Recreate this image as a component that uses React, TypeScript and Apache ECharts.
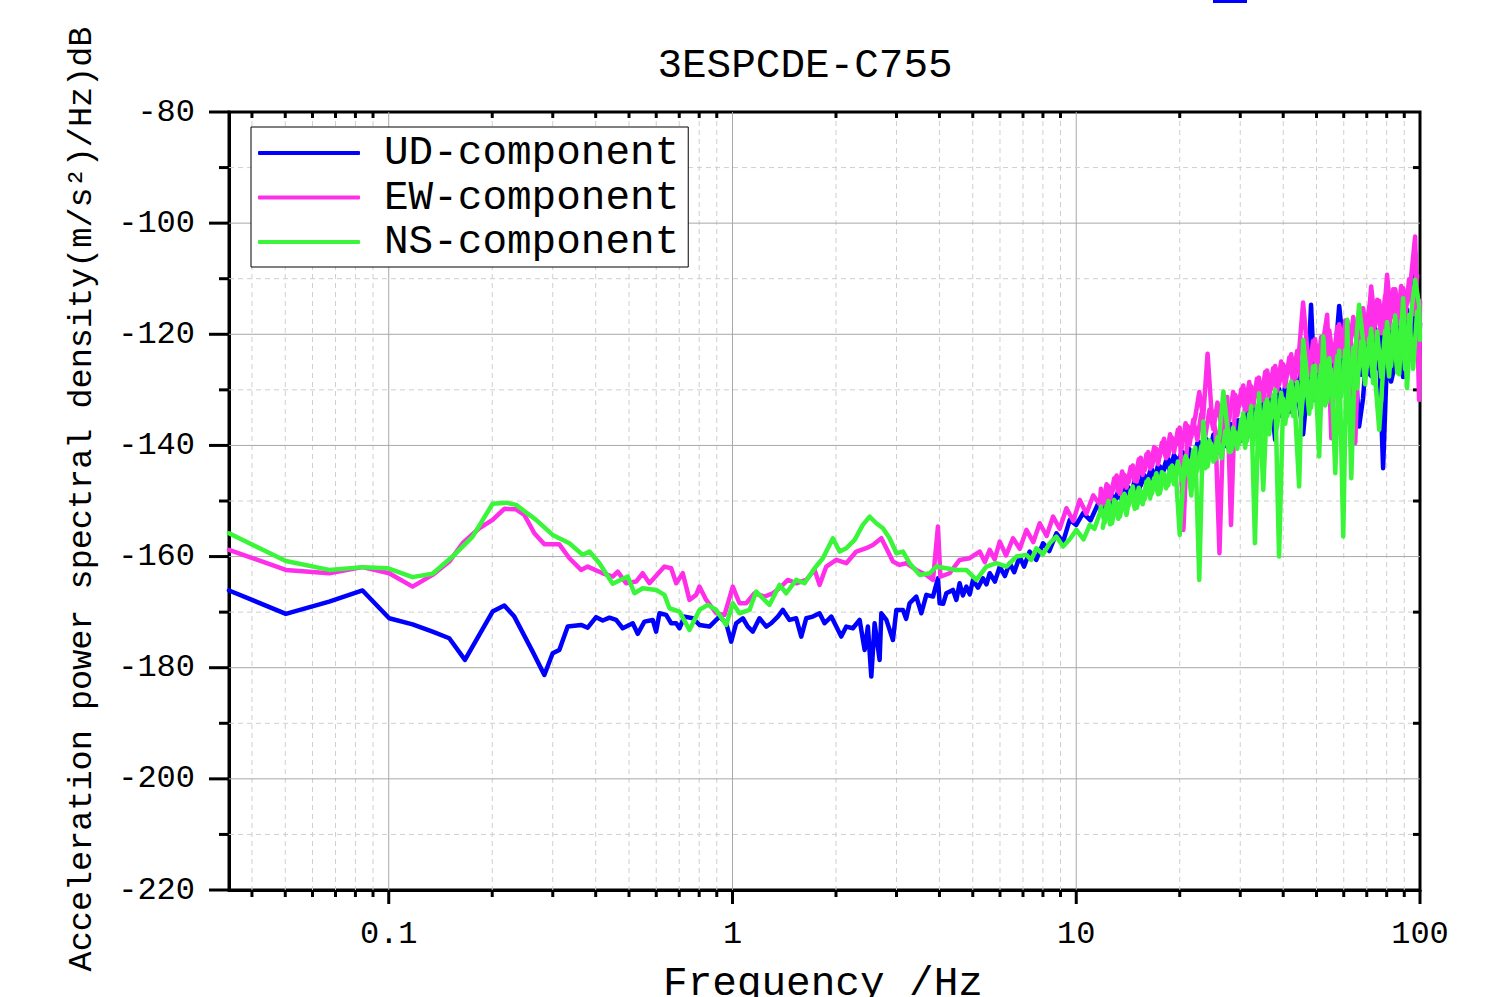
import React, { useEffect, useRef } from 'react';
import * as echarts from 'echarts';

const FONT = '"Liberation Mono", "DejaVu Sans Mono", monospace';

const TITLE = '3ESPCDE-C755';
const X_NAME = 'Frequency /Hz';
const Y_NAME = 'Acceleration power spectral density(m/s²)/Hz)dB';
const SERIES_NAMES = ['UD-component', 'EW-component', 'NS-component'];
const COLORS = ['#0000FF', '#FF2EE8', '#3AF53A'];

const X_MIN = 0.0343;
const X_MAX = 100;
const Y_MIN = -220;
const Y_MAX = -80;
const Y_STEP = 20;

const X_MAJOR = [0.1, 1, 10, 100];
const X_MINOR = [0.04, 0.05, 0.06, 0.07, 0.08, 0.09, 0.2, 0.3, 0.4, 0.5, 0.6, 0.7, 0.8, 0.9, 2, 3, 4, 5, 6, 7, 8, 9, 20, 30, 40, 50, 60, 70, 80, 90];
const Y_MAJOR = [-220, -200, -180, -160, -140, -120, -100, -80];
const Y_MINOR = [-210, -190, -170, -150, -130, -110, -90];

// low / mid frequency part: [frequency Hz, dB]
const UD_LOW: [number, number][] = [
  [0.0343, -166.1], [0.0502, -170.3], [0.0671, -168.1], [0.0839, -166.1], [0.1003, -171.1], [0.1173, -172.2], [0.1341, -173.5], [0.15, -174.7], [0.1666, -178.6], [0.2005, -169.9], [0.2169, -168.8], [0.2319, -170.8], [0.2622, -177.1], [0.2836, -181.3], [0.2998, -177.4], [0.3135, -176.8], [0.3316, -172.6], [0.3627, -172.3], [0.3791, -172.8], [0.4011, -170.9], [0.4193, -171.5], [0.4385, -171.0], [0.4586, -171.4], [0.4794, -172.9], [0.5127, -172.0], [0.53, -173.9], [0.5544, -171.7], [0.5861, -171.4], [0.5995, -173.5], [0.6131, -170.2], [0.6412, -170.5], [0.6632, -172.0], [0.6858, -172.0], [0.7009, -172.9], [0.7248, -170.8], [0.7665, -171.1],
  [0.8014, -172.3], [0.8571, -172.6], [0.9165, -170.8], [0.9587, -172.0], [0.9913, -175.3], [1.025, -172.0], [1.072, -171.1], [1.108, -172.6], [1.146, -173.5], [1.198, -171.1], [1.254, -172.6], [1.296, -172.0], [1.355, -170.8], [1.401, -169.6], [1.465, -171.4], [1.532, -171.1], [1.585, -174.4], [1.639, -171.1], [1.713, -170.8], [1.792, -170.2], [1.853, -172.0], [1.938, -170.8], [2.004, -172.6], [2.072, -174.4], [2.143, -172.6], [2.24, -172.9], [2.343, -171.4], [2.423, -176.8], [2.477, -172.6], [2.534, -181.6], [2.591, -172.0], [2.679, -178.6], [2.71, -170.2], [2.803, -171.4], [2.929, -175.0], [2.997, -169.6], [3.132, -169.6], [3.2, -171.2], [3.275, -168.4], [3.425, -167.2], [3.543, -170.2], [3.664, -166.9], [3.83, -167.2], [3.96, -163.9], [4.005, -168.4], [4.1, -168.5], [4.19, -166.6], [4.378, -166.0], [4.48, -167.8], [4.579, -164.8], [4.68, -167.0], [4.79, -165.4], [4.9, -166.8], [5.007, -164.2], [5.18, -165.6], [5.354, -163.9], [5.48, -165.0], [5.601, -163.0], [5.8, -164.5], [5.989, -161.8], [6.2, -163.5], [6.403, -161.2], [6.6, -162.8], [6.846, -160.0], [7.05, -161.8], [7.32, -159.1], [7.65, -160.6], [8.005, -157.6], [8.35, -159.0], [8.757, -155.8], [9.15, -157.4], [9.574, -153.4], [10.0, -154.3], [10.47, -152.2], [11.0, -153.5], [11.71, -149.8],
];

const EW_LOW: [number, number][] = [
  [0.0343, -158.8], [0.0502, -162.4], [0.0671, -163.0], [0.0839, -161.9], [0.1003, -163.0], [0.1173, -165.4], [0.1341, -163.3], [0.15, -160.9], [0.164, -157.6], [0.1834, -154.9], [0.2005, -153.4], [0.2169, -151.4], [0.2346, -151.5], [0.248, -152.5], [0.2652, -155.8], [0.2836, -157.8], [0.3135, -157.8], [0.3354, -160.3], [0.3627, -162.4], [0.3791, -161.8], [0.4193, -163.0], [0.4482, -163.6], [0.4636, -162.7], [0.4903, -164.8], [0.5244, -164.5], [0.5481, -163.0], [0.5733, -164.8], [0.6339, -161.8], [0.6632, -162.1], [0.6858, -164.8], [0.7168, -163.0], [0.7496, -167.8], [0.784, -166.9],
  [0.8014, -165.4], [0.8385, -167.8], [0.8966, -170.2], [0.9478, -170.5], [1.002, -165.4], [1.048, -168.4], [1.096, -168.4], [1.159, -166.6], [1.239, -167.2], [1.31, -166.6], [1.37, -165.7], [1.449, -164.2], [1.532, -164.8], [1.639, -164.2], [1.733, -162.4], [1.792, -165.1], [1.874, -161.8], [2.004, -160.6], [2.143, -161.2], [2.292, -159.1], [2.45, -158.5], [2.561, -157.9], [2.71, -156.7], [2.803, -158.5], [2.929, -160.9], [3.063, -161.5], [3.203, -161.2], [3.425, -162.4], [3.664, -163.3], [3.83, -164.2], [3.96, -154.6], [4.025, -163.6], [4.281, -163.0], [4.579, -160.6], [4.898, -160.3], [5.238, -159.1], [5.42, -161.0], [5.601, -158.8], [5.79, -160.5], [5.989, -157.3], [6.25, -159.8], [6.546, -156.7], [6.85, -158.6], [7.161, -155.2], [7.5, -157.4], [7.829, -154.0], [8.2, -156.3], [8.561, -152.8], [8.95, -155.0], [9.365, -151.3], [9.8, -153.6], [10.24, -149.8], [10.7, -152.3], [11.2, -149.0], [11.71, -150.6],
];

const NS_LOW: [number, number][] = [
  [0.0343, -155.8], [0.0502, -160.8], [0.0671, -162.4], [0.0839, -161.9], [0.0992, -162.1], [0.1173, -163.7], [0.1341, -163.1], [0.1533, -160.0], [0.1754, -156.4], [0.2005, -150.5], [0.2194, -150.3], [0.2346, -150.7], [0.2683, -153.4], [0.2998, -156.1], [0.3354, -157.6], [0.3666, -159.7], [0.3835, -159.1], [0.4101, -161.2], [0.4482, -164.9], [0.4956, -163.6], [0.5184, -166.6], [0.5481, -165.7], [0.5995, -166.0], [0.6339, -166.9], [0.6556, -169.3], [0.7009, -169.9], [0.7496, -173.2], [0.8014, -169.6], [0.8475, -168.7], [0.8966, -169.6], [0.9587, -172.3], [1.002, -168.4],
  [1.048, -170.2], [1.121, -169.6], [1.172, -166.3], [1.225, -167.5], [1.281, -168.7], [1.37, -165.1], [1.433, -166.6], [1.532, -164.2], [1.62, -164.8], [1.733, -162.1], [1.832, -160.3], [1.959, -156.7], [2.049, -159.1], [2.143, -158.5], [2.266, -157.0], [2.394, -154.3], [2.505, -152.8], [2.62, -154.0], [2.739, -154.9], [2.865, -156.7], [2.997, -159.4], [3.132, -159.1], [3.275, -161.2], [3.502, -163.3], [3.746, -163.0], [3.917, -161.8], [4.19, -162.1], [4.48, -162.4], [4.79, -162.4], [5.122, -164.2], [5.478, -161.8], [5.857, -161.2], [6.263, -161.8], [6.697, -160.0], [7.161, -159.7], [7.4, -160.6], [7.657, -158.5], [8.0, -159.6], [8.372, -157.6], [8.75, -156.4], [9.155, -158.2], [9.6, -156.8], [10.01, -155.2], [10.5, -156.9], [10.95, -154.3], [11.3, -155.0], [11.71, -152.2],
];

// high frequency part: main frequency grid
const HF_FREQ = [11.8, 12.1, 12.4, 12.7, 13.1, 13.4, 13.8, 14.2, 14.6, 15.0, 15.4, 15.8, 16.2, 16.6, 17.1, 17.5, 18.0, 18.5, 19.0, 19.5, 20.0, 20.5, 21.1, 21.6, 22.2, 22.8, 23.4, 24.1, 24.7, 25.4, 26.1, 26.8, 27.5, 28.2, 29.0, 29.8, 30.6, 31.4, 32.3, 33.1, 34.0, 35.0, 35.9, 36.9, 37.9, 38.9, 40.0, 41.1, 42.2, 43.3, 44.5, 45.7, 47.0, 48.2, 49.5, 50.9, 52.3, 53.7, 55.2, 56.7, 58.2, 59.8, 61.4, 63.1, 64.8, 66.5, 68.3, 70.2, 72.1, 74.1, 76.1, 78.1, 80.2, 82.4, 84.7, 87.0, 89.3, 91.7, 94.2, 96.8, 99.4];

const UD_HIGH = [
  -151.7, -149.4, -151.4, -149.0, -149.6, -147.7, -149.4, -147.6, -148.9, -146.2,
  -147.2, -145.4, -146.6, -144.3, -146.2, -143.8, -144.4, -142.3, -144.1, -142.2,
  -143.6, -141.3, -143.0, -148.0, -142.6, -139.4, -142.6, -139.1, -140.3, -137.5,
  -140.4, -137.8, -140.2, -136.2, -137.9, -135.5, -137.9, -133.3, -138.2, -133.2,
  -135.2, -131.1, -135.7, -131.9, -139.0, -129.8, -132.6, -129.1, -132.2, -127.6,
  -132.5, -138.0, -129.8, -114.7, -130.9, -126.3, -131.3, -124.1, -127.8, -123.6,
  -114.9, -122.1, -128.6, -122.5, -125.2, -136.6, -131.5, -121.5, -127.5, -119.0,
  -123.7, -144.1, -124.0, -128.5, -125.2, -118.0, -127.7, -115.6, -123.0, -105.4,
  -123.7,
];
const EW_HIGH = [
  -147.8, -150.4, -147.3, -148.6, -145.4, -148.7, -145.3, -146.6, -143.6, -146.5,
  -142.2, -144.5, -141.2, -143.8, -140.6, -141.9, -138.8, -141.9, -138.6, -139.9,
  -136.8, -155.2, -136.5, -138.5, -134.8, -130.4, -135.0, -123.5, -133.3, -137.4,
  -159.4, -135.3, -131.3, -154.3, -130.9, -132.9, -129.2, -133.5, -129.4, -131.3,
  -127.8, -131.8, -126.5, -129.8, -125.7, -129.1, -125.4, -127.3, -123.6, -127.9,
  -123.0, -114.3, -122.7, -125.4, -120.9, -126.3, -121.2, -116.5, -138.7, -124.7,
  -118.2, -122.5, -117.5, -121.9, -139.6, -119.9, -115.3, -120.8, -111.4, -118.4,
  -114.0, -119.2, -109.3, -117.0, -111.9, -116.4, -111.7, -114.4, -109.8, -102.4,
  -131.8,
];
const NS_HIGH = [
  -151.0, -153.9, -150.0, -154.0, -150.2, -152.8, -148.7, -150.8, -147.4, -151.2,
  -148.2, -149.7, -146.1, -148.7, -145.0, -148.6, -145.1, -147.2, -143.6, -145.3,
  -156.1, -146.2, -142.6, -149.0, -140.4, -164.2, -135.7, -143.8, -139.7, -142.5,
  -138.0, -130.3, -136.7, -141.1, -137.6, -139.7, -134.2, -139.2, -132.9, -157.6,
  -130.6, -148.0, -131.7, -135.2, -130.0, -160.0, -131.6, -134.7, -128.5, -133.5,
  -147.4, -121.0, -127.8, -133.2, -125.6, -142.0, -120.4, -132.2, -126.4, -145.0,
  -122.9, -156.4, -117.4, -145.9, -123.2, -114.7, -121.1, -125.8, -119.0, -128.1,
  -137.2, -126.5, -117.8, -125.7, -116.6, -127.2, -113.5, -129.7, -116.4, -110.2,
  -114.7,
];

// high frequency part: in-between frequency grid (second trace of each record)
const HF_MID_FREQ = [11.95, 12.25, 12.55, 12.9, 13.25, 13.6, 14.0, 14.4, 14.8, 15.2, 15.6, 16.0, 16.4, 16.85, 17.3, 17.75, 18.25, 18.75, 19.25, 19.75, 20.25, 20.8, 21.35, 21.9, 22.5, 23.1, 23.75, 24.4, 25.05, 25.75, 26.45, 27.15, 27.85, 28.6, 29.4, 30.2, 31.0, 31.85, 32.7, 33.55, 34.5, 35.45, 36.4, 37.4, 38.4, 39.45, 40.55, 41.65, 42.75, 43.9, 45.1, 46.35, 47.6, 48.85, 50.2, 51.6, 53.0, 54.45, 55.95, 57.45, 59.0, 60.6, 62.25, 63.95, 65.65, 67.4, 69.25, 71.15, 73.1, 75.1, 77.1, 79.15, 81.3, 83.55, 85.85, 88.15, 90.5, 92.95, 95.5, 98.1];

const UD_MID = [
  -149.7, -151.6, -148.7, -150.6, -148.1, -150.0, -147.0, -148.9, -146.3, -148.2,
  -145.3, -147.1, -144.6, -146.5, -143.5, -145.4, -142.8, -144.6, -141.7, -143.5,
  -141.1, -144.5, -140.7, -143.9, -139.6, -142.6, -138.6, -141.9, -138.1, -141.3,
  -137.0, -140.0, -136.0, -139.4, -135.5, -139.1, -133.5, -138.2, -132.3, -137.5,
  -132.0, -136.9, -130.7, -135.3, -129.4, -134.7, -129.1, -134.0, -127.8, -132.5,
  -126.2, -132.2, -125.0, -131.8, -125.0, -131.5, -123.9, -129.9, -122.7, -129.5,
  -122.7, -129.2, -121.6, -127.6, -120.4, -127.3, -119.9, -127.2, -118.3, -126.1,
  -118.2, -126.4, -118.0, -125.3, -116.4, -124.2, -116.3, -124.5, -116.1, -123.4,
];
const EW_MID = [
  -150.6, -147.0, -149.7, -145.9, -148.3, -144.7, -147.6, -143.9, -146.4, -142.5,
  -145.3, -141.6, -144.2, -140.3, -143.4, -139.5, -142.3, -138.0, -141.2, -137.2,
  -140.6, -136.0, -139.9, -135.4, -139.0, -134.3, -138.2, -133.6, -137.1, -132.3,
  -136.4, -131.7, -135.5, -130.4, -134.6, -129.9, -133.8, -128.6, -132.9, -128.0,
  -132.0, -126.8, -131.2, -126.1, -130.2, -124.9, -129.4, -124.2, -128.5, -123.0,
  -128.1, -122.3, -127.3, -121.2, -126.6, -120.5, -125.7, -119.3, -124.9, -118.7,
  -124.0, -117.5, -123.2, -116.9, -122.3, -115.6, -121.5, -115.0, -120.6, -113.8,
  -119.8, -113.1, -118.9, -111.9, -118.1, -111.3, -117.2, -110.1, -116.4, -109.4,
];
const NS_MID = [
  -154.8, -150.9, -154.2, -149.8, -153.2, -149.3, -152.5, -148.1, -151.4, -147.6,
  -150.6, -146.5, -149.5, -145.9, -148.8, -144.8, -147.7, -144.0, -147.0, -142.9,
  -146.3, -141.9, -145.8, -140.9, -144.6, -140.2, -144.1, -139.1, -142.9, -138.5,
  -142.3, -137.4, -141.2, -136.8, -140.6, -135.3, -140.4, -134.3, -139.9, -132.9,
  -138.6, -132.4, -138.0, -131.0, -136.6, -130.5, -136.1, -129.1, -134.7, -128.6,
  -134.6, -127.0, -134.3, -125.8, -133.0, -125.5, -132.8, -124.3, -131.5, -123.9,
  -131.2, -122.8, -130.0, -122.4, -129.7, -121.3, -129.0, -120.7, -128.8, -119.5,
  -127.7, -119.4, -127.6, -118.3, -126.9, -117.6, -126.3, -116.5, -126.2, -115.9,
];

const UD_END: [number, number][] = [[100, -118]];
const EW_END: [number, number][] = [[100, -114]];
const NS_END: [number, number][] = [[100, -121]];

const LINE_WIDTH = 4.5;

function buildMain(low: [number, number][], high: number[], end: [number, number][]) {
  return [...low, ...HF_FREQ.map((f, i) => [f, high[i]] as [number, number]), ...end];
}
function buildMid(mid: number[]) {
  return HF_MID_FREQ.map((f, i) => [f, mid[i]] as [number, number]);
}

function xTicks(values: number[], major: boolean) {
  return {
    type: 'custom',
    silent: true,
    clip: false,
    z: 1,
    data: values.map((v) => [v, -150]),
    renderItem: (params: any, api: any) => {
      const cs = params.coordSys;
      const v = api.value(0);
      const x = api.coord([v, -150])[0];
      const top = cs.y;
      const bottom = cs.y + cs.height;
      const children: any[] = [];
      if (major) {
        if (v < 99) {
          children.push({ type: 'line', shape: { x1: x, y1: top, x2: x, y2: bottom }, style: { stroke: '#a8a8a8', lineWidth: 1 } });
        }
        children.push({ type: 'line', shape: { x1: x, y1: bottom, x2: x, y2: bottom + 14 }, style: { stroke: '#000', lineWidth: 3 } });
      } else {
        children.push({ type: 'line', shape: { x1: x, y1: top, x2: x, y2: bottom }, style: { stroke: '#cfcfcf', lineWidth: 1, lineDash: [5, 4] } });
        children.push({ type: 'line', shape: { x1: x, y1: bottom, x2: x, y2: bottom + 7 }, style: { stroke: '#000', lineWidth: 3 } });
        children.push({ type: 'line', shape: { x1: x, y1: top, x2: x, y2: top + 6 }, style: { stroke: '#000', lineWidth: 3 } });
      }
      return { type: 'group', children };
    },
  };
}

function yTicks(values: number[], major: boolean) {
  return {
    type: 'custom',
    silent: true,
    clip: false,
    z: 1,
    data: values.map((v) => [1, v]),
    renderItem: (params: any, api: any) => {
      const cs = params.coordSys;
      const v = api.value(1);
      const y = api.coord([1, v])[1];
      const left = cs.x;
      const right = cs.x + cs.width;
      const children: any[] = [];
      if (major) {
        if (v > Y_MIN && v < Y_MAX) {
          children.push({ type: 'line', shape: { x1: left, y1: y, x2: right, y2: y }, style: { stroke: '#a8a8a8', lineWidth: 1 } });
        }
        children.push({ type: 'line', shape: { x1: left - 20, y1: y, x2: left, y2: y }, style: { stroke: '#000', lineWidth: 3 } });
      } else {
        children.push({ type: 'line', shape: { x1: left, y1: y, x2: right, y2: y }, style: { stroke: '#cfcfcf', lineWidth: 1, lineDash: [5, 4] } });
        children.push({ type: 'line', shape: { x1: left - 10, y1: y, x2: left, y2: y }, style: { stroke: '#000', lineWidth: 3 } });
        children.push({ type: 'line', shape: { x1: right - 7, y1: y, x2: right, y2: y }, style: { stroke: '#000', lineWidth: 3 } });
      }
      return { type: 'group', children };
    },
  };
}

export default function App() {
  const ref = useRef<HTMLDivElement>(null);

  useEffect(() => {
    if (!ref.current) return;
    const chart = echarts.init(ref.current, undefined, { renderer: 'svg' });
    const mainData = [
      buildMain(UD_LOW, UD_HIGH, UD_END),
      buildMain(EW_LOW, EW_HIGH, EW_END),
      buildMain(NS_LOW, NS_HIGH, NS_END),
    ];
    const midData = [buildMid(UD_MID), buildMid(EW_MID), buildMid(NS_MID)];
    const lineSeries: any[] = [];
    SERIES_NAMES.forEach((name, i) => {
      const common = {
        name,
        type: 'line',
        showSymbol: false,
        symbol: 'none',
        color: COLORS[i],
        z: 3 + i,
        emphasis: { disabled: true },
        lineStyle: { color: COLORS[i], width: LINE_WIDTH, join: 'round', cap: 'round' },
      };
      lineSeries.push({ ...common, data: mainData[i] });
      lineSeries.push({ ...common, data: midData[i] });
    });
    const option: any = {
      animation: false,
      backgroundColor: '#ffffff',
      textStyle: { fontFamily: FONT },
      grid: { left: 229, right: 77, top: 112, bottom: 107, show: true, borderColor: '#000', borderWidth: 3, backgroundColor: 'transparent' },
      legend: {
        data: SERIES_NAMES,
        orient: 'vertical',
        left: 251,
        top: 127,
        padding: [4, 9, 3, 7],
        itemWidth: 102,
        itemHeight: 4,
        itemGap: 0.5,
        icon: 'roundRect',
        backgroundColor: '#ffffff',
        borderColor: '#000',
        borderWidth: 1,
        borderRadius: 0,
        textStyle: { fontFamily: FONT, fontSize: 41, color: '#000', lineHeight: 44, padding: [0, 0, 0, 19] },
      },
      xAxis: {
        type: 'log',
        logBase: 10,
        min: X_MIN,
        max: X_MAX,
        axisLine: { show: true, lineStyle: { color: '#000', width: 3 } },
        axisTick: { show: false },
        minorTick: { show: false },
        splitLine: { show: false },
        axisLabel: {
          show: true,
          showMinLabel: false,
          margin: 28,
          fontSize: 32,
          fontFamily: FONT,
          color: '#000',
          formatter: (v: number) => (v < 0.05 ? '' : v < 0.5 ? '0.1' : String(Math.round(v))),
        },
      },
      yAxis: {
        type: 'value',
        min: Y_MIN,
        max: Y_MAX,
        interval: Y_STEP,
        axisLine: { show: true, lineStyle: { color: '#000', width: 3 } },
        axisTick: { show: false },
        splitLine: { show: false },
        axisLabel: { margin: 34, fontSize: 32, fontFamily: FONT, color: '#000' },
      },
      graphic: [
        { type: 'text', x: 805, y: 66, style: { text: TITLE, fontSize: 41, fontFamily: FONT, fill: '#000', align: 'center', verticalAlign: 'middle' } },
        { type: 'text', x: 823, y: 984, style: { text: X_NAME, fontSize: 41, fontFamily: FONT, fill: '#000', align: 'center', verticalAlign: 'middle' } },
        { type: 'text', x: 82, y: 499, rotation: Math.PI / 2, style: { text: Y_NAME, fontSize: 33.5, fontFamily: FONT, fill: '#000', align: 'center', verticalAlign: 'middle' } },
        { type: 'rect', shape: { x: 1213, y: 0, width: 34, height: 3 }, style: { fill: '#0000FF' } },
      ],
      series: [
        xTicks(X_MINOR, false),
        xTicks(X_MAJOR, true),
        yTicks(Y_MINOR, false),
        yTicks(Y_MAJOR, true),
        ...lineSeries,
      ],
    };
    chart.setOption(option);
    return () => chart.dispose();
  }, []);

  return <div ref={ref} style={{ position: 'fixed', left: 0, top: 0, width: 1497, height: 997, background: '#fff' }} />;
}
